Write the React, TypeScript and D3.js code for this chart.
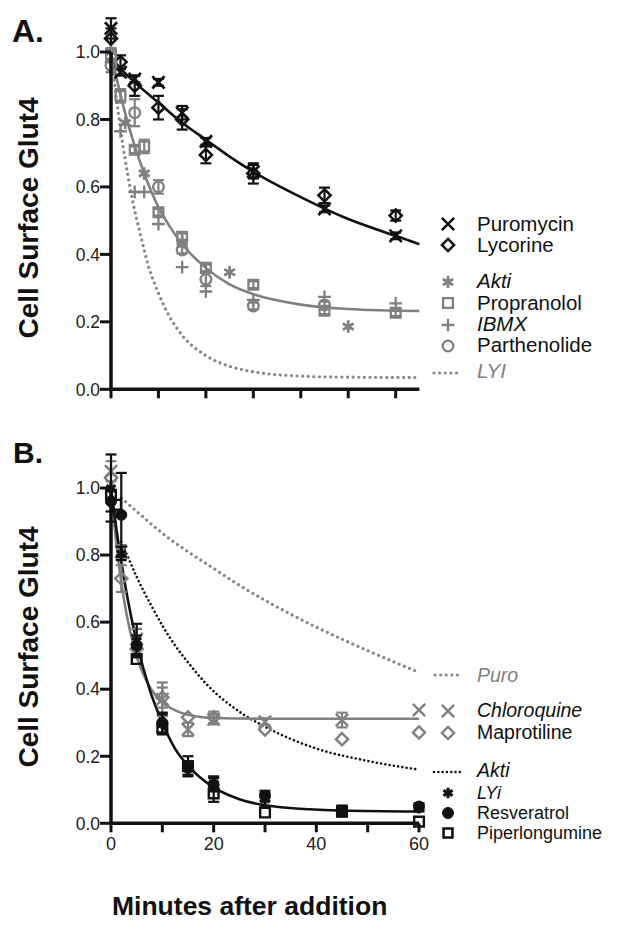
import React from 'react';
import * as d3 from 'd3';

// ---------------- Panel A data ----------------
const timesA = [0, 2, 5, 10, 15, 20, 30, 45, 60];
const puromycinA = [1.07, 0.94, 0.92, 0.91, 0.82, 0.735, 0.645, 0.535, 0.455];
const puromycinErrA = [0.03, 0.01, 0.01, 0.01, 0.02, 0.01, 0.02, 0.01, 0.01];
const lycorineA = [1.04, 0.97, 0.9, 0.835, 0.8, 0.695, 0.64, 0.575, 0.515];
const lycorineErrA = [0.03, 0.02, 0.03, 0.035, 0.03, 0.025, 0.03, 0.023, 0.015];

const aktiTimesA = [0, 3, 7, 15, 25, 50];
const aktiA = [1.0, 0.79, 0.64, 0.437, 0.347, 0.186];
const propTimesA = [0, 2, 5, 7, 10, 15, 20, 30, 45, 60];
const propranololA = [0.99, 0.87, 0.71, 0.72, 0.525, 0.452, 0.36, 0.31, 0.233, 0.227];
const propErrA = [0.02, 0.02, 0.01, 0.02, 0.01, 0.01, 0.01, 0.01, 0.01, 0.01];
const ibmxTimesA = [0, 2, 5, 7, 10, 15, 20, 30, 45, 60];
const ibmxA = [0.97, 0.765, 0.585, 0.585, 0.49, 0.362, 0.29, 0.265, 0.274, 0.255];
const parthTimesA = [0, 5, 10, 15, 20, 30, 45];
const parthenolideA = [0.96, 0.82, 0.6, 0.413, 0.326, 0.247, 0.25];
const parthErrA = [0.02, 0.04, 0.02, 0.01, 0.02, 0.01, 0.01];

// fitted curves
const fitPuroT = [0, 5, 10, 15, 20, 25, 30, 40, 50, 60, 65];
const fitPuroV = [0.98, 0.91, 0.85, 0.79, 0.74, 0.69, 0.645, 0.57, 0.505, 0.455, 0.43];
const fitGrayAT = [0, 1, 2, 3, 5, 7, 10, 12.5, 15, 20, 25, 30, 40, 50, 65];
const fitGrayAV = [1.0, 0.934, 0.873, 0.818, 0.721, 0.64, 0.54, 0.48, 0.43, 0.36, 0.311, 0.282, 0.251, 0.238, 0.232];
const fitLyiT = [0, 1, 2, 3, 4, 5, 6, 8, 10, 12, 15, 20, 25, 30, 40, 50, 65];
const fitLyiV = [1.0, 0.878, 0.772, 0.68, 0.6, 0.53, 0.47, 0.36, 0.285, 0.224, 0.16, 0.1, 0.068, 0.052, 0.039, 0.036, 0.035];

// ---------------- Panel B data ----------------
const timesB = [0, 2, 5, 10, 15, 20, 30, 45, 60];
const chloroquineB = [1.05, 0.81, 0.55, 0.37, 0.28, 0.31, 0.303, 0.308, 0.338];
const chloroErrB = [0.03, 0.02, 0.03, 0.05, 0.02, 0.015, 0.01, 0.022, 0];
const maprotilineB = [1.03, 0.73, 0.52, 0.375, 0.316, 0.316, 0.28, 0.251, 0.271];
const maproErrB = [0, 0.04, 0, 0.03, 0, 0.017, 0, 0, 0];
const lyiB = [1.0, 0.805, 0.545, 0.295, 0.17, 0.12, 0.07, 0.038, 0.045];
const lyiErrB = [0.1, 0.02, 0.05, 0.03, 0.03, 0.02, 0.02, 0.015, 0.01];
const resveratrolB = [0.96, 0.92, 0.53, 0.3, 0.165, 0.115, 0.082, 0.035, 0.05];
const resvErrB = [0.03, 0.125, 0.03, 0.03, 0.02, 0.02, 0.015, 0.015, 0.01];
const piperTimesB = [0, 1, 5, 10, 15, 20, 30, 45, 60];
const piperlongumineB = [0.98, 0.95, 0.49, 0.285, 0.17, 0.089, 0.032, 0.035, 0.005];
const piperErrB = [0, 0, 0, 0, 0, 0.025, 0, 0, 0];

const fitPuroBT = [2, 5, 10, 15, 20, 25, 30, 40, 50, 60];
const fitPuroBV = [0.97, 0.93, 0.865, 0.81, 0.76, 0.71, 0.665, 0.585, 0.515, 0.45];
const fitAktiBT = [2, 3, 5, 8, 10, 12.5, 15, 18.6, 25, 30, 40, 50, 60];
const fitAktiBV = [0.84, 0.805, 0.735, 0.645, 0.59, 0.53, 0.48, 0.415, 0.333, 0.288, 0.223, 0.186, 0.16];
const fitGrayBT = [0, 1, 2, 3, 5, 7.5, 10, 12.5, 15, 20, 30, 45, 60];
const fitGrayBV = [1.0, 0.84, 0.72, 0.626, 0.498, 0.408, 0.361, 0.337, 0.324, 0.314, 0.312, 0.312, 0.312];
const fitBlackBT = [0, 1, 2, 3, 5, 7.5, 10, 12.5, 15, 20, 25, 30, 45, 60];
const fitBlackBV = [1.0, 0.883, 0.78, 0.69, 0.54, 0.4, 0.3, 0.222, 0.172, 0.107, 0.072, 0.054, 0.038, 0.035];

const yTicks = [0, 0.2, 0.4, 0.6, 0.8, 1.0];
const xMinorTicks = [0, 10, 20, 30, 40, 50, 60];
const xLabelTicks = [0, 20, 40, 60];

const GRAY = '#808080';
const BLACK = '#111111';
const FONT = 'Liberation Sans, Arial, Helvetica, sans-serif';

function symPath(type: any, size: number) {
  return d3.symbol(type, size)() as string;
}

function Marker({ x, y, type, size, color, fill, sw }: any) {
  return (
    <path
      d={symPath(type, size)}
      transform={`translate(${x},${y})`}
      fill={fill || 'none'}
      stroke={color}
      strokeWidth={sw}
    />
  );
}

function Series({ xs, ys, errs, times, vals, type, size, color, fill, sw }: any) {
  return (
    <g>
      {errs &&
        times.map((t: number, i: number) => {
          const e = errs[i];
          if (!e) return null;
          const cx = xs(t);
          const y1 = ys(vals[i] + e);
          const y2 = ys(vals[i] - e);
          return (
            <g key={'e' + i} stroke={color} strokeWidth={2.2}>
              <line x1={cx} x2={cx} y1={y1} y2={y2} />
              <line x1={cx - 5.5} x2={cx + 5.5} y1={y1} y2={y1} />
              <line x1={cx - 5.5} x2={cx + 5.5} y1={y2} y2={y2} />
            </g>
          );
        })}
      {times.map((t: number, i: number) => (
        <Marker key={i} x={xs(t)} y={ys(vals[i])} type={type} size={size} color={color} fill={fill} sw={sw} />
      ))}
    </g>
  );
}

function Curve({ xs, ys, ts, vs, color, width, dash }: any) {
  const pts: [number, number][] = ts.map((t: number, i: number) => [t, vs[i]]);
  const gen = d3
    .line<[number, number]>()
    .x((d) => xs(d[0]))
    .y((d) => ys(d[1]))
    .curve(d3.curveMonotoneX);
  return (
    <path
      d={gen(pts) as string}
      fill="none"
      stroke={color}
      strokeWidth={width}
      strokeDasharray={dash}
      strokeLinecap={dash ? 'round' : 'butt'}
    />
  );
}

function YAxis({ xs, ys }: any) {
  const x0 = xs(0);
  return (
    <g>
      <line x1={x0} x2={x0} y1={ys(0) + 1.5} y2={ys(1)} stroke={BLACK} strokeWidth={3.5} />
      {yTicks.map((v) => (
        <g key={v}>
          <line x1={x0 - 11} x2={x0} y1={ys(v)} y2={ys(v)} stroke={BLACK} strokeWidth={3} />
          <text
            x={x0 - 11}
            y={ys(v)}
            dy="0.36em"
            textAnchor="end"
            fontSize={17.5}
            fontFamily={FONT}
            fill="#222"
          >
            {d3.format('.1f')(v)}
          </text>
        </g>
      ))}
    </g>
  );
}

function XAxis({ xs, ys, domainEnd, labels }: any) {
  const y0 = ys(0);
  return (
    <g>
      <line x1={xs(0) - 1.7} x2={xs(domainEnd)} y1={y0} y2={y0} stroke={BLACK} strokeWidth={3.5} />
      {xMinorTicks.map((t) => (
        <line key={t} x1={xs(t)} x2={xs(t)} y1={y0} y2={y0 + 9} stroke={BLACK} strokeWidth={3} />
      ))}
      {labels &&
        xLabelTicks.map((t) => (
          <text key={'l' + t} x={xs(t)} y={y0 + 27} textAnchor="middle" fontSize={18} fontFamily={FONT} fill="#222">
            {t}
          </text>
        ))}
    </g>
  );
}

function LegendText({ x, y, text, italic, color, size }: any) {
  return (
    <text x={x} y={y} fontSize={size || 20.5} fontFamily={FONT} fontStyle={italic ? 'italic' : 'normal'} fill={color}>
      {text}
    </text>
  );
}

export default function App() {
  const xA = d3.scaleLinear().domain([0, 65]).range([111, 419.4]);
  const yA = d3.scaleLinear().domain([0, 1]).range([389.3, 52]);
  const xB = d3.scaleLinear().domain([0, 60]).range([111, 419]);
  const yB = d3.scaleLinear().domain([0, 1]).range([823.3, 488]);

  const LX = 448;
  const TX = 477;
  const FB = 19.5;
  const FS = 18;

  return (
    <svg
      width={623}
      height={926}
      viewBox="0 0 623 926"
      style={{ position: 'absolute', left: 0, top: 0, background: '#fff' }}
    >
      <rect width={623} height={926} fill="#fff" />
      {/* Panel labels */}
      <text x={12} y={42} fontSize={32} fontWeight="bold" fontFamily={FONT} fill={BLACK}>A.</text>
      <text x={13} y={463} fontSize={30} fontWeight="bold" fontFamily={FONT} fill={BLACK}>B.</text>

      {/* Y axis titles */}
      <text
        transform={`translate(38,218) rotate(-90)`}
        textAnchor="middle"
        fontSize={28}
        fontWeight="bold"
        fontFamily={FONT}
        fill={BLACK}
      >
        Cell Surface Glut4
      </text>
      <text
        transform={`translate(38,647) rotate(-90)`}
        textAnchor="middle"
        fontSize={28}
        fontWeight="bold"
        fontFamily={FONT}
        fill={BLACK}
      >
        Cell Surface Glut4
      </text>
      <text x={112} y={915} fontSize={26.5} fontWeight="bold" fontFamily={FONT} fill={BLACK}>
        Minutes after addition
      </text>

      {/* ---------- Panel A ---------- */}
      <Curve xs={xA} ys={yA} ts={fitLyiT} vs={fitLyiV} color="#888" width={3.2} dash="0.01 5.6" />
      <Curve xs={xA} ys={yA} ts={fitGrayAT} vs={fitGrayAV} color={GRAY} width={2.6} />
      <Curve xs={xA} ys={yA} ts={fitPuroT} vs={fitPuroV} color={BLACK} width={2.6} />

      <Series xs={xA} ys={yA} times={timesA} vals={lycorineA} errs={lycorineErrA} type={d3.symbolDiamond2} size={95} color={BLACK} sw={2.5} />
      <Series xs={xA} ys={yA} times={timesA} vals={puromycinA} errs={puromycinErrA} type={d3.symbolTimes} size={100} color={BLACK} sw={2.6} />
      <Series xs={xA} ys={yA} times={propTimesA} vals={propranololA} errs={propErrA} type={d3.symbolSquare2} size={120} color={GRAY} sw={2.3} />
      <Series xs={xA} ys={yA} times={parthTimesA} vals={parthenolideA} errs={parthErrA} type={d3.symbolCircle} size={90} color={GRAY} sw={2.3} />
      <Series xs={xA} ys={yA} times={ibmxTimesA} vals={ibmxA} type={d3.symbolPlus} size={55} color={GRAY} sw={2.3} />
      <Series xs={xA} ys={yA} times={aktiTimesA} vals={aktiA} type={d3.symbolAsterisk} size={110} color={GRAY} sw={2.8} />

      <YAxis xs={xA} ys={yA} />
      <XAxis xs={xA} ys={yA} domainEnd={65} />

      {/* Legend A */}
      <Marker x={LX} y={224} type={d3.symbolTimes} size={100} color={BLACK} sw={2.6} />
      <LegendText x={TX} y={231} text="Puromycin" color={BLACK} />
      <Marker x={LX} y={245} type={d3.symbolDiamond2} size={95} color={BLACK} sw={2.5} />
      <LegendText x={TX} y={252} text="Lycorine" color={BLACK} />
      <Marker x={LX} y={282} type={d3.symbolAsterisk} size={100} color={GRAY} sw={2.8} />
      <LegendText x={TX} y={288} text="Akti" italic color={BLACK} />
      <Marker x={LX} y={303} type={d3.symbolSquare2} size={120} color={GRAY} sw={2.3} />
      <LegendText x={TX} y={310} text="Propranolol" color={BLACK} />
      <Marker x={LX} y={325} type={d3.symbolPlus} size={55} color={GRAY} sw={2.3} />
      <LegendText x={TX} y={331} text="IBMX" italic color={BLACK} />
      <Marker x={LX} y={346} type={d3.symbolCircle} size={90} color={GRAY} sw={2.3} />
      <LegendText x={TX} y={352} text="Parthenolide" color={BLACK} />
      <line x1={434} x2={460} y1={373} y2={373} stroke="#888" strokeWidth={3.2} strokeDasharray="0.01 5.6" strokeLinecap="round" />
      <LegendText x={TX} y={378} text="LYI" italic color={GRAY} />

      {/* ---------- Panel B ---------- */}
      <Curve xs={xB} ys={yB} ts={fitPuroBT} vs={fitPuroBV} color="#888" width={3.2} dash="0.01 5.6" />
      <Curve xs={xB} ys={yB} ts={fitAktiBT} vs={fitAktiBV} color={BLACK} width={2.6} dash="0.01 4.3" />
      <Curve xs={xB} ys={yB} ts={fitGrayBT} vs={fitGrayBV} color={GRAY} width={2.6} />
      <Curve xs={xB} ys={yB} ts={fitBlackBT} vs={fitBlackBV} color={BLACK} width={2.6} />

      <Series xs={xB} ys={yB} times={timesB} vals={maprotilineB} errs={maproErrB} type={d3.symbolDiamond2} size={95} color={GRAY} sw={2.4} />
      <Series xs={xB} ys={yB} times={timesB} vals={chloroquineB} errs={chloroErrB} type={d3.symbolTimes} size={100} color={GRAY} sw={2.4} />
      <Series xs={xB} ys={yB} times={piperTimesB} vals={piperlongumineB} errs={piperErrB} type={d3.symbolSquare2} size={120} color={BLACK} sw={2.4} />
      <Series xs={xB} ys={yB} times={timesB} vals={resveratrolB} errs={resvErrB} type={d3.symbolCircle} size={95} color={BLACK} fill={BLACK} sw={1} />
      <Series xs={xB} ys={yB} times={timesB} vals={lyiB} errs={lyiErrB} type={d3.symbolAsterisk} size={80} color={BLACK} sw={3} />

      <YAxis xs={xB} ys={yB} />
      <XAxis xs={xB} ys={yB} domainEnd={60} labels />

      {/* Legend B */}
      <line x1={435} x2={461} y1={675} y2={675} stroke="#888" strokeWidth={3.2} strokeDasharray="0.01 5.6" strokeLinecap="round" />
      <LegendText x={TX} y={682} text="Puro" italic color={GRAY} size={FB} />
      <Marker x={LX} y={711} type={d3.symbolTimes} size={100} color={GRAY} sw={2.4} />
      <LegendText x={TX} y={717} text="Chloroquine" italic color={BLACK} size={FB} />
      <Marker x={LX} y={733} type={d3.symbolDiamond2} size={95} color={GRAY} sw={2.4} />
      <LegendText x={TX} y={739} text="Maprotiline" color={BLACK} size={FB} />
      <line x1={434} x2={462} y1={772} y2={772} stroke={BLACK} strokeWidth={2.6} strokeDasharray="0.01 4.3" strokeLinecap="round" />
      <LegendText x={TX} y={777} text="Akti" italic color={BLACK} size={FB} />
      <Marker x={LX} y={793} type={d3.symbolAsterisk} size={80} color={BLACK} sw={3} />
      <LegendText x={TX} y={799} text="LYi" italic color={BLACK} size={FS} />
      <Marker x={LX} y={813} type={d3.symbolCircle} size={95} color={BLACK} fill={BLACK} sw={1} />
      <LegendText x={TX} y={819} text="Resveratrol" color={BLACK} size={FS} />
      <Marker x={LX} y={833} type={d3.symbolSquare2} size={100} color={BLACK} sw={2.6} />
      <LegendText x={TX} y={839} text="Piperlongumine" color={BLACK} size={FS} />
    </svg>
  );
}
